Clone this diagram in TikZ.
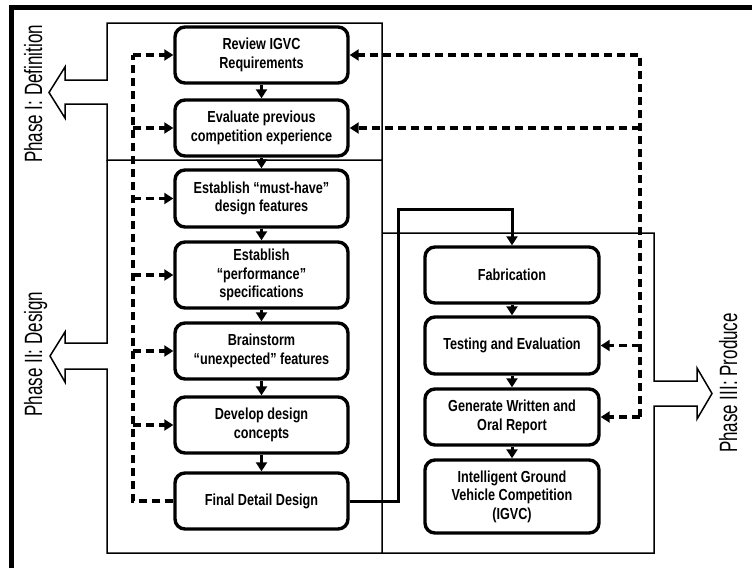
\documentclass[tikz,border=0pt]{standalone}
\usepackage{fontspec}
\setmainfont{Liberation Sans}[FakeStretch=0.79]
\newfontfamily\phasefont{Liberation Sans}[FakeStretch=0.68]
\usetikzlibrary{arrows.meta}

\tikzset{
  stepbox/.style={draw, line width=3.4pt, rounded corners=10pt, align=center,
    inner sep=0pt, font=\bfseries\fontsize{16}{18.5}\selectfont},
  leftbox/.style={stepbox, minimum width=173pt},
  rightbox/.style={stepbox, minimum width=174pt},
  flow/.style={line width=3pt, -{Triangle[length=9pt,width=11pt]}},
  fb/.style={line width=3.4pt, dash pattern=on 8pt off 5pt},
  fbarrow/.style={fb, -{Triangle[length=9pt,width=11pt]}},
  phaseline/.style={line width=1.5pt},
  phaselabel/.style={rotate=90, anchor=base, inner sep=0pt,
    font=\phasefont\fontsize{25}{25}\selectfont},
}

\begin{document}
\begin{tikzpicture}[x=1pt, y=-1pt]
\useasboundingbox (0,0) rectangle (752,568);
\fill[white] (0,0) rectangle (752,568);

% outer frame
\draw[line width=4.5pt] (11.5,568) -- (11.5,7.5) -- (752,7.5);

% phase outlines with their hollow arrows
\draw[phaseline] (382,160) -- (107,160) -- (107,104) -- (65,104) -- (65,118)
  -- (49,92.5) -- (65,67) -- (65,80) -- (107,80) -- (107,23) -- (382,23) -- cycle;
\draw[phaseline] (382,160) -- (382,553) -- (107,553) -- (107,369) -- (65,369)
  -- (65,382) -- (50,356) -- (65,332) -- (65,343) -- (107,343) -- (107,160);
\draw[phaseline] (382,233) -- (654,233) -- (654,381) -- (697,381) -- (697,368)
  -- (712,393.5) -- (697,419) -- (697,406) -- (654,406) -- (654,553) -- (382,553);

% phase labels
\node[phaselabel] (p1) at (42,94) {Phase I: Definition};
\node[phaselabel] (p2) at (42,354) {Phase II: Design};
\node[phaselabel] (p3) at (737,383) {Phase III: Produce};

% definition and design steps
\node[leftbox, minimum height=56pt] (n1) at (261.5,55) {Review IGVC\\Requirements};
\node[leftbox, minimum height=56pt] (n2) at (261.5,128) {Evaluate previous\\competition experience};
\node[leftbox, minimum height=57pt] (n3) at (261.5,198.5) {Establish “must-have”\\design features};
\node[leftbox, minimum height=66pt] (n4) at (261.5,275) {Establish\\“performance”\\specifications};
\node[leftbox, minimum height=56pt] (n5) at (261.5,351) {Brainstorm\\“unexpected” features};
\node[leftbox, minimum height=56pt] (n6) at (261.5,425) {Develop design\\concepts};
\node[leftbox, minimum height=56pt] (n7) at (261.5,501) {Final Detail Design};

% production steps
\node[rightbox, minimum height=56pt] (n8) at (512,275) {Fabrication};
\node[rightbox, minimum height=57pt] (n9) at (512,345.5) {Testing and Evaluation};
\node[rightbox, minimum height=56pt] (n10) at (512,417) {Generate Written and\\Oral Report};
\node[rightbox, minimum height=73pt] (n11) at (512,496.5) {Intelligent Ground\\Vehicle Competition\\(IGVC)};

% main flow
\draw[flow] (n1) -- (n2);
\draw[flow] (n2) -- (n3);
\draw[flow] (n3) -- (n4);
\draw[flow] (n4) -- (n5);
\draw[flow] (n5) -- (n6);
\draw[flow] (n6) -- (n7);
\draw[flow] (n8) -- (n9);
\draw[flow] (n9) -- (n10);
\draw[flow] (n10) -- (n11);
\coordinate (j1) at (398,209);
\draw[flow] (n7.east) -| (j1) -| (n8.north);

% feedback on the design side
\coordinate (lt) at (133,55);
\coordinate (lb) at (133,501);
\draw[fb] (n7.west) -- (lb) -- (lt);
\draw[fbarrow] (lt) -- (n1.west);
\draw[fbarrow] (n2.west -| lt) -- (n2.west);
\draw[fbarrow] (n3.west -| lt) -- (n3.west);
\draw[fbarrow] (n4.west -| lt) -- (n4.west);
\draw[fbarrow] (n5.west -| lt) -- (n5.west);
\draw[fbarrow] (n6.west -| lt) -- (n6.west);

% feedback from production
\coordinate (rt) at (640,55);
\coordinate (rb) at (640,417);
\draw[fbarrow] (rb) -- (rt) -- (n1.east);
\draw[fbarrow] (n2.east -| rt) -- (n2.east);
\draw[fbarrow] (n9.east -| rt) -- (n9.east);
\draw[fbarrow] (rb) -- (n10.east);
\end{tikzpicture}
\end{document}
